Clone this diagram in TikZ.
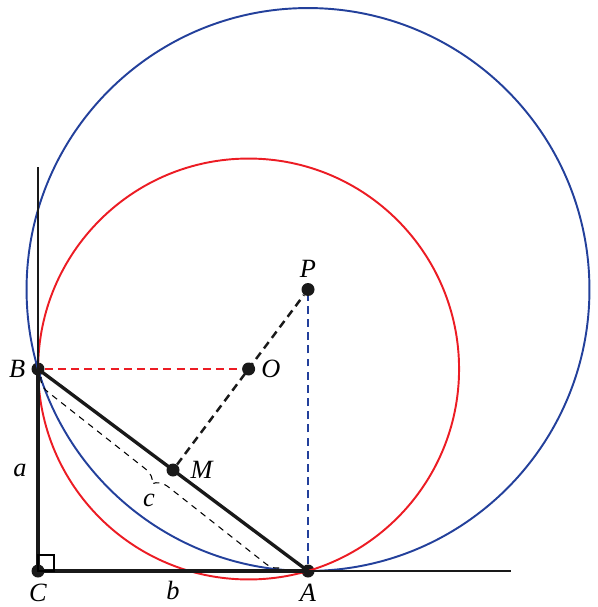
\documentclass[tikz,border=0pt]{standalone}
\usepackage{fontspec}
\setmainfont{Liberation Serif}
\usetikzlibrary{calc}
\usetikzlibrary{positioning}
\usetikzlibrary{decorations.pathreplacing}
\definecolor{cred}{RGB}{236,28,36}
\definecolor{cblue}{RGB}{35,64,155}

\begin{document}
\begin{tikzpicture}[
    x=0.02cm, y=-0.02cm,
    dot/.style={circle, fill=black!90, inner sep=0pt, minimum size=0.26cm},
    lab/.style={font=\fontsize{15}{17}\selectfont\itshape, inner sep=0pt},
    side/.style={line width=1.9pt, black!90},
    axis/.style={line width=1pt, black!90},
    dsh/.style={line width=1.4pt, dash pattern=on 4.5pt off 3pt}
]
\useasboundingbox (0,0) rectangle (597,607);

% Points
\node[dot] (C) at (38,571) {};
\node[dot] (A) at (308,571) {};
\node[dot] (B) at (38,369) {};
\node[dot] (P) at (308,289.5) {};
\node[dot] (O) at (248.6,369) {};
\node[dot] (M) at ($(A)!0.5!(B)$) {};
\coordinate (Y) at (38,167);
\coordinate (X) at (511,571);

% Circles
\draw[cblue, line width=1.1pt] (P) circle[radius=5.63cm];
\draw[cred, line width=1.1pt] (O) circle[radius=4.21cm];

% Axes and triangle
\draw[axis] (B.center) -- (Y);
\draw[axis] (A.center) -- (X);
\draw[side] (C.center) -- (B.center);
\draw[side] (C.center) -- (A.center);
\draw[side] (B.center) -- (A.center);
\draw[line width=0.7pt] (C.center) rectangle ++(16,-16);

% Dashed lines
\draw[dsh, cred] (B) -- (O);
\draw[dsh, cblue] (A) -- (P);
\draw[dsh, black!90] (M) -- (P);

% Brace for c
\coordinate (c1) at (41,377);
\coordinate (c2) at (282,567);
\draw[line width=0.6pt, dash pattern=on 3.5pt off 3pt, decorate,
      decoration={brace, mirror, amplitude=0.3cm}] (c1) -- (c2);

% Labels
\node[lab, left=1.1mm of B] (lB) {B};
\node[lab, right=1.1mm of O] (lO) {O};
\node[lab, above=0.9mm of P] (lP) {P};
\node[lab, right=2.1mm of M] (lM) {M};
\node[lab, below=1.1mm of C] (lC) {C};
\node[lab, below=1.1mm of A] (lA) {A};
\node[lab] (la) at ($(C)!0.5!(B)+(-18,0)$) {a};
\node[lab] (lb) at ($(C)!0.5!(A)+(0,19)$) {b};
\node[lab] (lc) at (149,500) {c};

\end{tikzpicture}
\end{document}
